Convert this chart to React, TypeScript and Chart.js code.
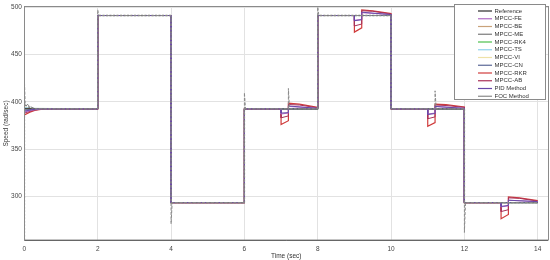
import React, { useEffect, useRef } from 'react';
import { Chart, registerables } from 'chart.js';
Chart.register(...registerables);

const timeTicks = [0, 2, 4, 6, 8, 10, 12, 14];
const speedTicks = [300, 350, 400, 450, 500];

const seriesNames = [
  'Reference', 'MPCC-FE', 'MPCC-BE', 'MPCC-ME', 'MPCC-RK4', 'MPCC-TS',
  'MPCC-VI', 'MPCC-CN', 'MPCC-RKR', 'MPCC-AB', 'PID Method', 'FOC Method',
];
const seriesColors = [
  '#2a2a2a', '#b06cc4', '#c9a27a', '#7a7a7a', '#4cbf4c', '#8fd0ec',
  '#eee2a8', '#5a6796', '#d03c3c', '#a83058', '#6848a8', '#8a8a8a',
];

const reference = [[0, 250], [0, 392.5], [2, 392.5], [2, 491], [4, 491], [4, 293.5], [6, 293.5], [6, 392.5], [8, 392.5], [8, 491], [10, 491], [10, 392.5], [12, 392.5], [12, 293.5], [14, 293.5]];
const mpccFE = [[0, 250], [0, 389], [0.2, 391], [0.45, 392.5], [2, 392.5], [2, 491], [4, 491], [4, 293.5], [6, 293.5], [6, 392.5], [7, 392.5], [7, 387], [7.2, 388], [7.2, 395], [8, 393], [8, 491], [9, 491], [9, 486], [9.2, 487], [9.2, 494], [10, 492], [10, 392.5], [11, 392.5], [11, 387], [11.2, 388], [11.2, 395], [12, 393], [12, 293.5], [13, 293.5], [13, 289], [13.2, 290], [13.2, 296], [14, 294.5]];
const mpccBE = [[0, 250], [0, 393], [0.2, 392.8], [2, 392.5], [2, 491], [4, 491], [4, 293.5], [6, 293.5], [6, 392.5], [8, 392.5], [8, 491], [10, 491], [10, 392.5], [12, 392.5], [12, 293.5], [14, 293.5]];
const mpccME = [[0, 250], [0, 397], [0.15, 394], [0.3, 392.5], [2, 392.5], [2, 491], [4, 491], [4, 293.5], [6, 293.5], [6, 392.5], [8, 392.5], [8, 491], [10, 491], [10, 392.5], [12, 392.5], [12, 293.5], [14, 293.5]];
const mpccRK4 = [[0, 250], [0, 393.5], [0.2, 392.7], [2, 392.5], [2, 491], [4, 491], [4, 293.5], [6, 293.5], [6, 392.5], [8, 392.5], [8, 491], [10, 491], [10, 392.5], [12, 392.5], [12, 293.5], [14, 293.5]];
const mpccTS = [[0, 250], [0, 394], [0.2, 393], [2, 392.5], [2, 491], [4, 491], [4, 293.5], [6, 293.5], [6, 392.5], [8, 392.5], [8, 491], [10, 491], [10, 392.5], [12, 392.5], [12, 293.5], [14, 293.5]];
const mpccVI = [[0, 250], [0, 394.5], [0.2, 393], [2, 392.5], [2, 491], [4, 491], [4, 293.5], [6, 293.5], [6, 392.5], [8, 392.5], [8, 491], [10, 491], [10, 392.5], [12, 392.5], [12, 293.5], [14, 293.5]];
const mpccCN = [[0, 250], [0, 391], [0.25, 392.2], [0.4, 392.5], [2, 392.5], [2, 491], [4, 491], [4, 293.5], [6, 293.5], [6, 392.5], [8, 392.5], [8, 491], [10, 491], [10, 392.5], [12, 392.5], [12, 293.5], [14, 293.5]];
const mpccRKR = [[0, 250], [0, 386], [0.15, 389], [0.3, 391], [0.55, 392.5], [2, 392.5], [2, 491], [4, 491], [4, 293.5], [6, 293.5], [6, 392.5], [7, 392.5], [7, 376], [7.2, 380], [7.2, 398.5], [7.5, 397.5], [8, 394], [8, 491], [9, 491], [9, 473.5], [9.2, 478], [9.2, 497], [9.5, 496], [10, 493], [10, 392.5], [11, 392.5], [11, 374], [11.2, 378], [11.2, 397.5], [11.5, 397], [12, 394.5], [12, 293.5], [13, 293.5], [13, 276.5], [13.2, 281], [13.2, 299.5], [13.5, 298.5], [14, 295.5]];
const mpccAB = [[0, 250], [0, 388], [0.2, 390.5], [0.5, 392.5], [2, 392.5], [2, 491], [4, 491], [4, 293.5], [6, 293.5], [6, 392.5], [7, 392.5], [7, 383], [7.2, 385], [7.2, 397], [7.5, 396.5], [8, 393.5], [8, 491], [9, 491], [9, 480], [9.2, 482], [9.2, 496], [9.5, 495.5], [10, 492.5], [10, 392.5], [11, 392.5], [11, 382], [11.2, 384], [11.2, 396.5], [11.5, 396], [12, 394], [12, 293.5], [13, 293.5], [13, 284], [13.2, 286], [13.2, 298.5], [13.5, 298], [14, 295]];
const pidMethod = [[0, 250], [0, 390], [0.2, 391.5], [0.4, 392.5], [2, 392.5], [2, 491], [4, 491], [4, 293.5], [6, 293.5], [6, 392.5], [7, 392.5], [7, 388], [7.2, 388.5], [7.2, 395.5], [8, 393], [8, 491], [9, 491], [9, 485.5], [9.2, 486.5], [9.2, 494.5], [10, 492], [10, 392.5], [11, 392.5], [11, 386.5], [11.2, 387.5], [11.2, 395], [12, 393], [12, 293.5], [13, 293.5], [13, 289.5], [13.2, 290.5], [13.2, 296], [14, 294.5]];
const focMethod = [[0, 250], [0, 423], [0.02, 399], [0.15, 395], [0.3, 392.5], [2, 392.5], [2, 497], [2.03, 491], [4, 491], [4, 271], [4.03, 293.5], [6, 293.5], [6, 409.5], [6.03, 392.5], [7.2, 392.5], [7.2, 414], [7.23, 392.5], [8, 392.5], [8, 500], [8.03, 491], [10, 491], [10, 392.5], [11.2, 392.5], [11.2, 411.5], [11.23, 392.5], [12, 392.5], [12, 262], [12.03, 293.5], [14, 293.5]];

const seriesData = [reference, mpccFE, mpccBE, mpccME, mpccRK4, mpccTS, mpccVI, mpccCN, mpccRKR, mpccAB, pidMethod, focMethod];
// drawing order (lower = on top)
const drawOrder = [8, 3, 9, 1, 11, 10, 10, 4, 6, 5, 2, 0];

const FONT = '"Liberation Sans", Arial, sans-serif';

const framePlugin = {
  id: 'frameAndLegend',
  afterDraw(chart: any) {
    const { ctx, chartArea } = chart;
    ctx.save();
    ctx.strokeStyle = '#8a8a8a';
    ctx.lineWidth = 1;
    ctx.strokeRect(Math.round(chartArea.left) + 0.5, Math.round(chartArea.top) - 0.5, Math.round(chartArea.right - chartArea.left), Math.round(chartArea.bottom - chartArea.top) + 0.5);
    ctx.strokeStyle = '#666666';
    ctx.beginPath();
    ctx.moveTo(chartArea.left, Math.round(chartArea.bottom) + 0.5);
    ctx.lineTo(chartArea.right, Math.round(chartArea.bottom) + 0.5);
    ctx.stroke();
    // legend box
    const bx = 454.5, by = 4.5, bw = 91, bh = 95;
    ctx.fillStyle = '#ffffff';
    ctx.fillRect(bx, by, bw, bh);
    ctx.strokeStyle = '#8a8a8a';
    ctx.strokeRect(bx, by, bw, bh);
    ctx.font = `6px ${FONT}`;
    ctx.textBaseline = 'middle';
    ctx.textAlign = 'left';
    seriesNames.forEach((name, i) => {
      const y = 11 + i * 7.75;
      ctx.strokeStyle = seriesColors[i];
      ctx.lineWidth = 1.2;
      ctx.beginPath();
      ctx.moveTo(478, y);
      ctx.lineTo(492, y);
      ctx.stroke();
      ctx.fillStyle = '#333333';
      ctx.fillText(name, 494.5, y);
    });
    ctx.restore();
  },
};

export default function App() {
  const ref = useRef<HTMLCanvasElement>(null);
  useEffect(() => {
    document.body.style.margin = '0';
    const datasets = seriesData.map((pts, i) => ({
      label: seriesNames[i],
      data: pts.map(([x, y]) => ({ x, y })),
      borderColor: seriesColors[i],
      backgroundColor: seriesColors[i],
      borderWidth: i === 0 ? 1.2 : i === 3 ? 1.4 : i === 8 ? 1.2 : 1,
      borderDash: i === 3 ? [2, 1.5] : i === 11 ? [3, 1.5] : [],
      pointRadius: 0,
      tension: 0,
      fill: false,
      order: drawOrder[i],
    }));
    const chart = new Chart(ref.current!, {
      type: 'line',
      data: { datasets },
      plugins: [framePlugin],
      options: {
        animation: false,
        responsive: false,
        maintainAspectRatio: false,
        layout: { padding: { top: 7, right: 2, left: 0, bottom: 0 } },
        plugins: { legend: { display: false }, tooltip: { enabled: false } },
        scales: {
          x: {
            type: 'linear',
            min: 0,
            max: 14.28,
            afterBuildTicks: (s: any) => { s.ticks = timeTicks.map((v) => ({ value: v })); },
            afterFit: (s: any) => { s.height = 20; },
            grid: { color: '#e2e2e2', drawTicks: false },
            border: { display: false },
            ticks: { font: { size: 6.5, family: FONT }, color: '#444', padding: 5, maxRotation: 0 },
            title: { display: true, text: 'Time (sec)', font: { size: 6.5, family: FONT }, color: '#333', padding: { top: 0, bottom: 0 } },
          },
          y: {
            type: 'linear',
            min: 254,
            max: 500,
            afterBuildTicks: (s: any) => { s.ticks = speedTicks.map((v) => ({ value: v })); },
            afterFit: (s: any) => { s.width = 24.4; },
            grid: { color: '#e2e2e2', drawTicks: false },
            border: { display: false },
            ticks: { font: { size: 6.5, family: FONT }, color: '#444', padding: 2.5 },
            title: { display: true, text: 'Speed (rad/sec)', font: { size: 6.5, family: FONT }, color: '#333', padding: { top: 2, bottom: 0 } },
          },
        },
      },
    });
    return () => chart.destroy();
  }, []);
  return (
    <div style={{ position: 'absolute', left: 0, top: 0, width: 550, height: 260 }}>
      <canvas ref={ref} width={550} height={260} style={{ width: 550, height: 260 }} />
    </div>
  );
}
